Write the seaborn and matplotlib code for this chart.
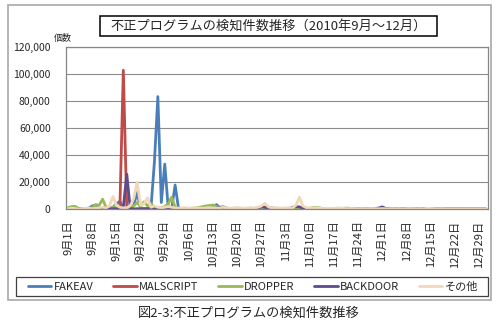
import matplotlib
matplotlib.use("Agg")
import matplotlib.pyplot as plt
from matplotlib.patches import Rectangle
from matplotlib.lines import Line2D
from matplotlib.ticker import FuncFormatter
import seaborn as sns
import pandas as pd

# ---------------- data (daily, 2010-09-01 .. 2010-12-31) ----------------
series_names = ["FAKEAV", "MALSCRIPT", "DROPPER", "BACKDOOR", "その他"]

fakeav = [
    # Sep
    0, 200, 300, 0, 0, 200, 800, 2500, 3000, 1000,
    300, 200, 500, 1500, 4000, 6000, 500, 300, 500, 3000,
    12500, 600, 300, 500, 800, 35000, 83500, 5000, 33500, 1000,
    # Oct
    600, 18000, 300, 200, 100, 0, 100, 200, 100, 300,
    200, 500, 1500, 3500, 800, 200, 100, 0, 100, 200,
    100, 0, 100, 200, 100, 0, 0, 100, 200, 100, 0,
    # Nov
    0, 100, 0, 0, 100, 0, 0, 0, 100, 0,
    0, 0, 100, 0, 0, 0, 0, 100, 0, 0,
    0, 0, 0, 100, 0, 0, 0, 0, 0, 0,
    # Dec
    100, 0, 0, 0, 0, 0, 100, 0, 0, 0,
    0, 0, 0, 0, 100, 0, 0, 0, 0, 0,
    0, 0, 0, 0, 0, 0, 0, 0, 0, 0, 0,
]

malscript = [
    # Sep
    0, 0, 100, 0, 0, 0, 100, 0, 0, 0,
    0, 100, 0, 0, 100, 1000, 103000, 500, 100, 0,
    0, 100, 0, 0, 0, 100, 0, 0, 0, 0,
    # Oct
    0, 0, 0, 0, 0, 0, 0, 0, 0, 0,
    0, 0, 0, 0, 0, 0, 0, 0, 0, 0,
    0, 0, 0, 0, 0, 0, 0, 0, 0, 0, 0,
    # Nov
    0, 0, 0, 0, 0, 0, 0, 0, 0, 0,
    0, 0, 0, 0, 0, 0, 0, 0, 0, 0,
    0, 0, 0, 0, 0, 0, 0, 0, 0, 0,
    # Dec
    0, 0, 0, 0, 0, 0, 0, 0, 0, 0,
    0, 0, 0, 0, 0, 0, 0, 0, 0, 0,
    0, 0, 0, 0, 0, 0, 0, 0, 0, 0, 0,
]

dropper = [
    # Sep
    1200, 2000, 2200, 800, 300, 200, 300, 1200, 3500, 3000,
    7500, 1500, 500, 1500, 3000, 1000, 500, 800, 1500, 2500,
    5000, 2000, 5500, 2500, 4000, 1500, 800, 1000, 2000, 4000,
    # Oct
    9000, 1500, 800, 500, 300, 500, 800, 1000, 1500, 2000,
    2500, 2800, 3200, 2000, 800, 500, 300, 500, 800, 500,
    300, 200, 300, 500, 300, 200, 300, 200, 300, 500, 300,
    # Nov
    200, 300, 200, 300, 200, 300, 400, 300, 500, 800,
    1200, 1300, 1000, 500, 300, 200, 300, 200, 500, 800,
    900, 600, 300, 200, 300, 200, 200, 300, 200, 200,
    # Dec
    200, 300, 200, 100, 200, 100, 200, 100, 100, 200,
    100, 100, 200, 100, 100, 100, 200, 100, 100, 100,
    100, 200, 100, 100, 100, 100, 100, 100, 100, 100, 100,
]

backdoor = [
    # Sep
    200, 300, 200, 300, 200, 300, 400, 500, 600, 400,
    300, 200, 300, 400, 500, 300, 1500, 26000, 500, 300,
    400, 300, 500, 400, 300, 500, 400, 300, 500, 400,
    # Oct
    300, 400, 300, 200, 300, 200, 300, 200, 300, 200,
    300, 400, 500, 800, 1500, 1800, 800, 400, 500, 800,
    400, 300, 400, 500, 700, 1000, 1800, 1500, 600, 1000, 500,
    # Nov
    400, 300, 400, 500, 1500, 2000, 1800, 800, 400, 300,
    400, 300, 200, 300, 400, 300, 200, 300, 200, 300,
    200, 300, 200, 300, 200, 300, 400, 500, 600, 1000,
    # Dec
    1800, 600, 300, 200, 300, 200, 300, 200, 300, 200,
    300, 200, 300, 500, 300, 200, 300, 200, 300, 200,
    300, 200, 300, 200, 300, 200, 300, 200, 300, 200, 300,
]

sonota = [
    # Sep
    500, 800, 600, 300, 500, 800, 1000, 500, 800, 1200,
    1500, 1000, 2500, 9500, 3000, 1500, 1000, 1200, 2500, 8000,
    20000, 3000, 4000, 8500, 1500, 2500, 1500, 1000, 1500, 2000,
    # Oct
    1500, 1000, 800, 1000, 1200, 800, 1000, 1200, 1000, 800,
    1000, 1200, 1000, 800, 1000, 1500, 1000, 800, 1000, 1200,
    1000, 800, 1000, 1200, 1000, 1500, 2500, 4500, 1800, 1000, 1200,
    # Nov
    1000, 800, 1000, 1200, 1000, 3000, 9000, 2500, 1200, 1000,
    800, 1000, 800, 600, 800, 600, 800, 1000, 800, 600,
    500, 600, 500, 400, 500, 400, 500, 600, 500, 400,
    # Dec
    500, 400, 300, 400, 300, 400, 300, 400, 500, 400,
    300, 400, 300, 800, 600, 400, 300, 400, 300, 200,
    300, 200, 300, 200, 300, 200, 300, 200, 300, 200, 300,
]

tick_labels = ["9月1日", "9月8日", "9月15日", "9月22日", "9月29日",
               "10月6日", "10月13日", "10月20日", "10月27日",
               "11月3日", "11月10日", "11月17日", "11月24日",
               "12月1日", "12月8日", "12月15日", "12月22日", "12月29日"]

colors = ["#4A7EBB", "#BE4B48", "#98B954", "#5F4B8B", "#F0D8B8"]

title_text = "不正プログラムの検知件数推移（2010年9月～12月）"
caption_text = "図2-3:不正プログラムの検知件数推移"
ylabel_text = "個数"

# ---------------- build long-form table ----------------
values = [fakeav, malscript, dropper, backdoor, sonota]
rows = []
for name, vals in zip(series_names, values):
    for day, v in enumerate(vals):
        rows.append({"day": day, "value": v, "series": name})
df = pd.DataFrame(rows)

# ---------------- style ----------------
sns.set_style("white")
plt.rcParams["font.family"] = ["Noto Sans CJK JP", "DejaVu Sans"]

W, H = 497, 326
fig = plt.figure(figsize=(W / 100, H / 100), dpi=100)
fig.patch.set_facecolor("white")

def fx(px):
    return px / W

def fy(py):
    return 1 - py / H

# outer frame
fig.patches.append(Rectangle((fx(8), fy(300)), fx(483), (300 - 5) / H,
                             transform=fig.transFigure, fill=False,
                             ec="#A8A8A8", lw=1.2, zorder=0))

ax = fig.add_axes([fx(66), fy(209.3), fx(488 - 66), (209.3 - 47.3) / H])

sns.lineplot(data=df, x="day", y="value", hue="series",
             hue_order=series_names, palette=colors, linewidth=2.0,
             legend=False, ax=ax, estimator=None)

ax.set_xlim(-0.6, 121.6)
ax.set_ylim(0, 120000)
ax.set_yticks(range(0, 120001, 20000))
ax.yaxis.set_major_formatter(FuncFormatter(lambda v, p: f"{int(v):,}"))
ax.set_xticks(range(0, 122, 7))
ax.set_xticklabels(tick_labels, rotation=90, fontsize=8)
ax.tick_params(axis="y", labelsize=7.5, length=0, pad=11)
ax.tick_params(axis="x", length=0, pad=8)
ax.set_xlabel("")
ax.set_ylabel("")
ax.grid(axis="y", color="#8C8C8C", lw=0.8)
ax.set_axisbelow(True)
for s in ax.spines.values():
    s.set_color("#868686")
    s.set_linewidth(0.9)

# y unit label
fig.text(fx(63), fy(38), ylabel_text, ha="center", va="center", fontsize=6.5)

# title with box
fig.patches.append(Rectangle((fx(100), fy(36)), fx(337), 20 / H,
                             transform=fig.transFigure, fill=False,
                             ec="black", lw=1.1))
fig.text(fx(268.5), fy(26.5), title_text, ha="center", va="center",
         fontsize=9.5)

# legend frame + legend
fig.patches.append(Rectangle((fx(16), fy(296)), fx(472), 19 / H,
                             transform=fig.transFigure, fill=False,
                             ec="#404040", lw=0.9))
handles = [Line2D([0], [0], color=c, lw=2) for c in colors]
leg = fig.legend(handles, series_names, loc="center", ncol=5,
                 bbox_to_anchor=(fx(253), fy(286.5)),
                 fontsize=8, handlelength=2.1,
                 handletextpad=0.2, columnspacing=1.8, borderaxespad=0,
                 frameon=False, borderpad=0)

# caption
fig.text(fx(249), fy(313), caption_text, ha="center", va="center",
         fontsize=9.5)

fig.savefig("out.png", dpi=100, facecolor="white")
